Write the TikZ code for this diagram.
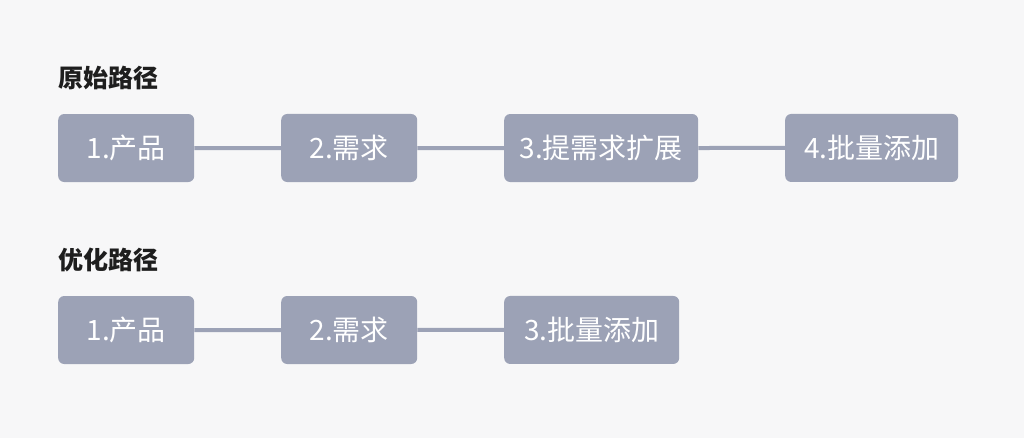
\documentclass[tikz,border=0pt]{standalone}
\usepackage{fontspec}
\setmainfont{Noto Sans CJK SC}
\usetikzlibrary{matrix,positioning}
\definecolor{bgcol}{HTML}{F7F7F8}
\definecolor{boxcol}{HTML}{9CA2B6}
\definecolor{titlecol}{HTML}{1E1E1E}
\tikzset{
  stepnode/.style={fill=boxcol, text=white, rounded corners=6pt, minimum height=68pt, inner sep=0pt, font=\fontsize{28pt}{32pt}\selectfont},
  link/.style={draw=boxcol, line width=4pt},
  pathtitle/.style={anchor=west, inner sep=0pt, text=titlecol, font=\fontsize{25pt}{29pt}\selectfont\bfseries}
}
\begin{document}
\begin{tikzpicture}
  \fill[bgcol] (0,0) rectangle (1024pt,438pt);
  \useasboundingbox (0,0) rectangle (1024pt,438pt);
  \node[pathtitle] (T1) at (58pt,360pt) {原始路径};
  \matrix (A)[matrix of nodes, nodes={stepnode}, column sep=87pt, inner sep=0pt, anchor=west] at (58pt,290pt)
      {|[minimum width=136pt]|1.产品 & |[minimum width=136pt]|2.需求 & |[minimum width=194pt]|3.提需求扩展 & |[minimum width=173pt]|4.批量添加 \\};
      \draw[link] (A-1-1) -- (A-1-2);
      \draw[link] (A-1-2) -- (A-1-3);
      \draw[link] (A-1-3) -- (A-1-4);
\begin{scope}[yshift=-182pt]
  \node[pathtitle] (T2) at (58pt,360pt) {优化路径};
  \matrix (B)[matrix of nodes, nodes={stepnode}, column sep=87pt, inner sep=0pt, anchor=west] at (58pt,290pt)
      {|[minimum width=136pt]|1.产品 & |[minimum width=136pt]|2.需求 & |[minimum width=175pt]|3.批量添加 \\};
      \draw[link] (B-1-1) -- (B-1-2);
      \draw[link] (B-1-2) -- (B-1-3);
\end{scope}
\end{tikzpicture}
\end{document}
